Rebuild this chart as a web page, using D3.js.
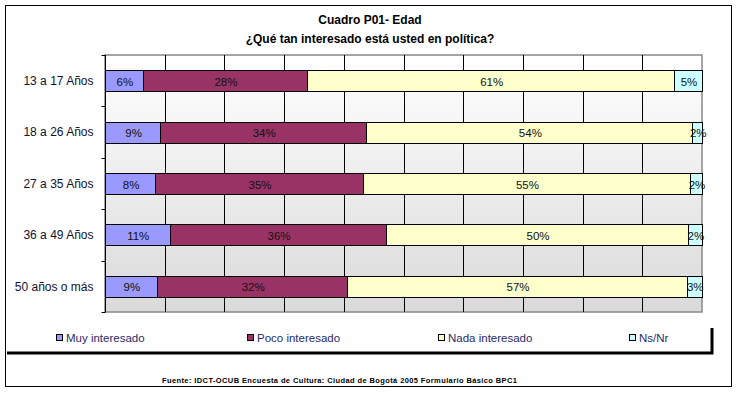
<!DOCTYPE html>
<html>
<head>
<meta charset="utf-8">
<script src="https://cdn.jsdelivr.net/npm/d3@7"></script>
<style>
body { margin: 0; background: #fff; }
text { font-family: "Liberation Sans", Arial, sans-serif; }
</style>
</head>
<body>
<div id="chart"></div>
<script>
var categories = ["13 a 17 Años", "18 a 26 Años", "27 a 35 Años", "36 a 49 Años", "50 años o más"]
var series = ["Muy interesado", "Poco interesado", "Nada interesado", "Ns/Nr"]
var muy = [6.3, 9.2, 8.4, 10.8, 8.7]
var poco = [27.6, 34.4, 34.8, 36.3, 32.0]
var nada = [61.4, 54.4, 54.8, 50.4, 56.9]
var nsnr = [4.7, 1.6, 2.0, 2.4, 2.6]
var colors = ["#9999ff", "#993366", "#ffffcc", "#ccffff"]
var title = "Cuadro P01- Edad"
var subtitle = "¿Qué tan interesado está usted en política?"
var source = "Fuente: IDCT-OCUB Encuesta de Cultura: Ciudad de Bogotá 2005 Formulario Básico BPC1"

var width = 738, height = 393
var plot = {left: 105, right: 702, top: 55, bottom: 312}

var svg = d3.select("#chart").append("svg")
    .attr("width", width)
    .attr("height", height)

var rows = categories.map((c, i) => {
    var r = {cat: c}
    r[series[0]] = muy[i]
    r[series[1]] = poco[i]
    r[series[2]] = nada[i]
    r[series[3]] = nsnr[i]
    return r
})

var stacked = d3.stack()
    .keys(series)
    .offset(d3.stackOffsetExpand)(rows)

var x = d3.scaleLinear()
    .domain([0, 1])
    .range([plot.left, plot.right])

var y = d3.scaleBand()
    .domain(categories)
    .range([plot.top, plot.bottom])
    .paddingInner(0.59)
    .paddingOuter(0.295)

var color = d3.scaleOrdinal()
    .domain(series)
    .range(colors)

// outer frame
svg.append("rect")
    .attr("x", 5.5).attr("y", 5.5)
    .attr("width", 726).attr("height", 381)
    .attr("fill", "none")
    .attr("stroke", "#000")

// plot background
var defs = svg.append("defs")
var grad = defs.append("linearGradient")
    .attr("id", "bg")
    .attr("x1", 0).attr("y1", 0).attr("x2", 0).attr("y2", 1)
grad.append("stop").attr("offset", "0%").attr("stop-color", "#ffffff")
grad.append("stop").attr("offset", "100%").attr("stop-color", "#dadada")

svg.append("rect")
    .attr("x", plot.left).attr("y", plot.top)
    .attr("width", plot.right - plot.left)
    .attr("height", plot.bottom - plot.top)
    .attr("fill", "url(#bg)")
    .attr("stroke", "#888")
    .attr("stroke-width", 1.5)

// vertical gridlines
svg.append("g")
    .selectAll("line")
    .data(x.ticks(10).filter(t => t > 0 && t < 1))
    .join("line")
        .attr("x1", d => Math.round(x(d)) + 0.5)
        .attr("x2", d => Math.round(x(d)) + 0.5)
        .attr("y1", plot.top)
        .attr("y2", plot.bottom)
        .attr("stroke", "#000")

// category axis
var yAxis = svg.append("g")
    .attr("transform", `translate(${plot.left + 0.5},0)`)
yAxis.append("line")
    .attr("y1", plot.top).attr("y2", plot.bottom)
    .attr("stroke", "#000")
var bounds = categories.map(c => y(c) - y.step() * y.paddingInner() / 2)
bounds.push(plot.bottom)
yAxis.selectAll(".tk")
    .data(bounds)
    .join("line")
        .attr("class", "tk")
        .attr("x1", -4).attr("x2", 0)
        .attr("y1", d => Math.round(d) + 0.5)
        .attr("y2", d => Math.round(d) + 0.5)
        .attr("stroke", "#000")
yAxis.selectAll(".lbl")
    .data(categories)
    .join("text")
        .attr("class", "lbl")
        .attr("x", -12)
        .attr("y", d => y(d) + y.bandwidth() / 2)
        .attr("dy", "0.35em")
        .attr("text-anchor", "end")
        .style("font-size", "12px")
        .attr("fill", "#111133")
        .text(d => d)

// bars
var layers = svg.append("g")
    .selectAll("g")
    .data(stacked)
    .join("g")
        .attr("fill", d => color(d.key))

layers.selectAll("rect")
    .data(d => d.map(s => ({key: d.key, s: s})))
    .join("rect")
        .attr("x", d => Math.round(x(d.s[0])) + 0.5)
        .attr("y", d => Math.round(y(d.s.data.cat)) + 0.5)
        .attr("width", d => Math.round(x(d.s[1])) - Math.round(x(d.s[0])))
        .attr("height", Math.round(y.bandwidth()))
        .attr("stroke", "#000")

layers.selectAll("text")
    .data(d => d.map(s => ({key: d.key, s: s})))
    .join("text")
        .attr("x", d => (x(d.s[0]) + x(d.s[1])) / 2 + 1)
        .attr("y", d => y(d.s.data.cat) + y.bandwidth() / 2 + 1)
        .attr("dy", "0.35em")
        .attr("text-anchor", "middle")
        .attr("fill", "#111")
        .style("font-size", "11.5px")
        .text(d => Math.round(d.s.data[d.key]) + "%")

// titles
svg.append("text")
    .attr("x", 370).attr("y", 24)
    .attr("text-anchor", "middle")
    .style("font-size", "12px")
    .style("font-weight", "bold")
    .text(title)
svg.append("text")
    .attr("x", 370).attr("y", 43)
    .attr("text-anchor", "middle")
    .style("font-size", "12px")
    .style("font-weight", "bold")
    .text(subtitle)

// legend box shadow
svg.append("path")
    .attr("d", "M712,328 V353 H7")
    .attr("fill", "none")
    .attr("stroke", "#000")
    .attr("stroke-width", 3)

var legend = svg.append("g")
    .selectAll("g")
    .data(series)
    .join("g")
        .attr("transform", (d, i) => `translate(${56 + i * 191},338)`)
legend.append("rect")
    .attr("x", 0.5).attr("y", -3.5)
    .attr("width", 6).attr("height", 6)
    .attr("fill", d => color(d))
    .attr("stroke", "#000")
legend.append("text")
    .attr("x", 10)
    .attr("y", 0)
    .attr("dy", "0.35em")
    .attr("fill", "#2a2a6a")
    .style("font-size", "11.5px")
    .text(d => d)

// source note
svg.append("text")
    .attr("x", 162).attr("y", 383)
    .attr("textLength", 355)
    .attr("lengthAdjust", "spacing")
    .style("font-size", "7.5px")
    .style("font-weight", "bold")
    .text(source)
</script>
</body>
</html>
